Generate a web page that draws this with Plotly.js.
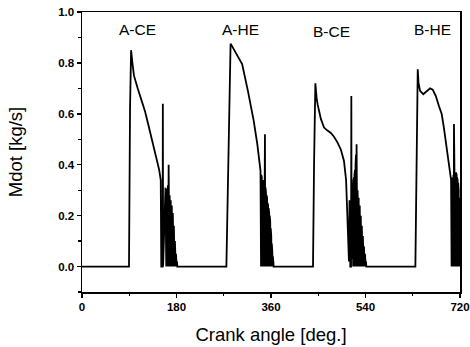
<!DOCTYPE html>
<html>
<head>
<meta charset="utf-8">
<script src="https://cdn.plot.ly/plotly-3.0.1.min.js"></script>
<style>html,body{margin:0;padding:0;background:#fff;}#chart{width:470px;height:347px;}</style>
</head>
<body>
<div id="chart"></div>
<script>
// Crank angle [deg.] / Mdot [kg/s], pulse by pulse
const startAngle = [0];
const startMdot = [0];

const aceAngle = [89.5, 91.5, 93.5, 96, 99, 106, 113, 120, 126, 132, 138, 143, 147, 150, 151, 153.5, 154, 154.5,
  159, 159.5, 160, 160.5, 161, 161.5, 162, 162.5, 163, 163.5, 164, 164.5, 165, 165.5, 166, 166.5, 167, 167.5,
  168, 168.5, 169, 169.5, 170, 170.5, 171, 171.5, 172, 172.5, 173, 173.5, 174, 174.5, 175, 175.5, 176, 176.5,
  177, 177.5, 178, 178.5, 179, 179.5, 180, 180.5, 181, 181.5];
const aceMdot = [0, 0.62, 0.85, 0.80, 0.75, 0.70, 0.655, 0.61, 0.56, 0.51, 0.46, 0.42, 0.38, 0.34, 0, 0, 0.64, 0,
  0.31, 0, 0.31, 0, 0.305, 0, 0.30, 0, 0.30, 0, 0.32, 0, 0.40, 0, 0.30, 0, 0.28, 0,
  0.27, 0, 0.26, 0, 0.25, 0, 0.24, 0, 0.22, 0, 0.21, 0, 0.19, 0, 0.16, 0, 0.13, 0,
  0.10, 0, 0.07, 0, 0.05, 0, 0.03, 0, 0.02, 0];

const aheAngle = [275, 279, 283, 286, 295, 305, 316, 327, 334, 340,
  341, 341.5, 342, 342.5, 343, 343.5, 344, 344.5, 345, 345.5, 346, 346.5, 347, 347.5, 348, 348.5, 349, 349.5,
  350, 350.5, 351, 351.5, 352, 352.5, 353, 353.5, 354, 354.5, 355, 355.5, 356, 356.5, 357, 357.5, 358, 358.5,
  359, 359.5, 360, 360.5, 361, 361.5, 362, 362.5, 363, 363.5, 364, 364.5, 365];
const aheMdot = [0, 0.45, 0.875, 0.865, 0.83, 0.795, 0.69, 0.573, 0.48, 0.376,
  0, 0.36, 0, 0.35, 0, 0.34, 0, 0.34, 0, 0.33, 0, 0.33, 0, 0.40, 0, 0.52, 0, 0.31,
  0, 0.29, 0, 0.28, 0, 0.27, 0, 0.25, 0, 0.24, 0, 0.23, 0, 0.21, 0, 0.20, 0, 0.18,
  0, 0.15, 0, 0.12, 0, 0.09, 0, 0.06, 0, 0.04, 0, 0.02, 0];

const bceAngle = [440, 442, 444.5, 447, 449, 455, 461, 467, 474, 480, 486, 493, 499, 503, 505.5, 507, 508.5, 509.5, 511, 512.5, 513, 513.5,
  515, 515.5, 516, 516.5, 517, 517.5, 518, 518.5, 519, 519.5, 520, 520.5, 521, 521.5, 522, 522.5, 523, 523.5,
  524, 524.5, 525, 525.5, 526, 526.5, 527, 527.5, 528, 528.5, 529, 529.5, 530, 530.5, 531, 531.5, 532, 532.5,
  533, 533.5, 534, 534.5, 535, 535.5, 536, 536.5, 537, 537.5, 538, 538.5, 539, 539.5, 540, 540.5, 541, 541.5];
const bceMdot = [0, 0.40, 0.72, 0.66, 0.635, 0.58, 0.546, 0.535, 0.525, 0.51, 0.49, 0.46, 0.415, 0.34, 0.20, 0.08, 0.02, 0.26, 0, 0, 0.67, 0.03,
  0.33, 0, 0.33, 0, 0.34, 0, 0.35, 0, 0.36, 0, 0.38, 0, 0.40, 0, 0.44, 0, 0.48, 0,
  0.34, 0, 0.30, 0, 0.29, 0, 0.27, 0, 0.26, 0, 0.24, 0, 0.22, 0, 0.20, 0, 0.18, 0,
  0.16, 0, 0.14, 0, 0.12, 0, 0.10, 0, 0.08, 0, 0.06, 0, 0.05, 0, 0.03, 0, 0.02, 0];

const bheAngle = [635, 637, 639.5, 641, 644, 650, 657, 663, 668, 674, 680, 685, 689, 693, 697, 701, 703,
  704, 704.5, 705, 705.5, 706, 706.5, 707, 707.5, 708, 708.5, 709, 709.5, 710, 710.5, 711, 711.5, 712, 712.5,
  713, 713.5, 714, 714.5, 715, 715.5, 716, 716.5, 717, 717.5, 718, 718.5, 719, 719.5, 720];
const bheMdot = [0, 0.40, 0.775, 0.72, 0.69, 0.677, 0.69, 0.70, 0.695, 0.67, 0.63, 0.60, 0.55, 0.487, 0.43, 0.37, 0.34,
  0, 0.35, 0, 0.35, 0, 0.36, 0, 0.36, 0, 0.56, 0, 0.37, 0, 0.37, 0, 0.37, 0, 0.37,
  0, 0.36, 0, 0.35, 0, 0.34, 0, 0.33, 0, 0.30, 0, 0.27, 0, 0.25, 0];

const caseLabels = ['A-CE', 'A-HE', 'B-CE', 'B-HE'];
const caseLabelAngle = [106, 301, 476, 667];
const caseLabelMdot = [0.93, 0.93, 0.922, 0.93];

const xTickVals = [0, 180, 360, 540, 720];
const yTickVals = [0.0, 0.2, 0.4, 0.6, 0.8, 1.0];

const fontFam = '"Liberation Sans", Arial, Helvetica, sans-serif';

const trace = {
  x: startAngle.concat(aceAngle, aheAngle, bceAngle, bheAngle),
  y: startMdot.concat(aceMdot, aheMdot, bceMdot, bheMdot),
  type: 'scatter',
  mode: 'lines',
  line: {color: '#000', width: 1.8},
  hoverinfo: 'skip'
};

const layout = {
  width: 470,
  height: 347,
  margin: {l: 82, r: 10, t: 12, b: 55},
  paper_bgcolor: '#fff',
  plot_bgcolor: '#fff',
  showlegend: false,
  font: {family: fontFam, color: '#000'},
  xaxis: {
    range: [0, 720],
    tickmode: 'array',
    tickvals: xTickVals,
    ticktext: xTickVals.map(String),
    ticks: 'outside',
    ticklen: 4,
    tickwidth: 1.5,
    tickcolor: '#000',
    minor: {tickmode: 'linear', tick0: 0, dtick: 90, ticks: 'outside', ticklen: 2.5, tickwidth: 1.2, tickcolor: '#000'},
    showline: true,
    linecolor: '#000',
    linewidth: 1.5,
    mirror: true,
    showgrid: false,
    zeroline: false,
    tickfont: {size: 11.5, family: fontFam, weight: 700, color: '#000'},
    title: {text: 'Crank angle [deg.]', font: {size: 18.5, family: fontFam, color: '#000'}, standoff: 16}
  },
  yaxis: {
    range: [-0.1, 1.0],
    tickmode: 'array',
    tickvals: yTickVals,
    ticktext: yTickVals.map(v => v.toFixed(1)),
    ticks: 'outside',
    ticklen: 4,
    tickwidth: 1.5,
    tickcolor: '#000',
    minor: {tickmode: 'linear', tick0: 0, dtick: 0.1, ticks: 'outside', ticklen: 2.5, tickwidth: 1.2, tickcolor: '#000'},
    showline: true,
    linecolor: '#000',
    linewidth: 1.5,
    mirror: true,
    showgrid: false,
    zeroline: false,
    tickfont: {size: 11.5, family: fontFam, weight: 700, color: '#000'},
    title: {text: 'Mdot [kg/s]', font: {size: 18.5, family: fontFam, color: '#000'}, standoff: 30}
  },
  annotations: caseLabels.map((t, i) => ({
    x: caseLabelAngle[i], y: caseLabelMdot[i], xref: 'x', yref: 'y',
    text: t, showarrow: false,
    font: {size: 15.5, family: fontFam, color: '#000'},
    xanchor: 'center', yanchor: 'middle'
  }))
};

Plotly.newPlot('chart', [trace], layout, {staticPlot: true, displayModeBar: false});
</script>
</body>
</html>
